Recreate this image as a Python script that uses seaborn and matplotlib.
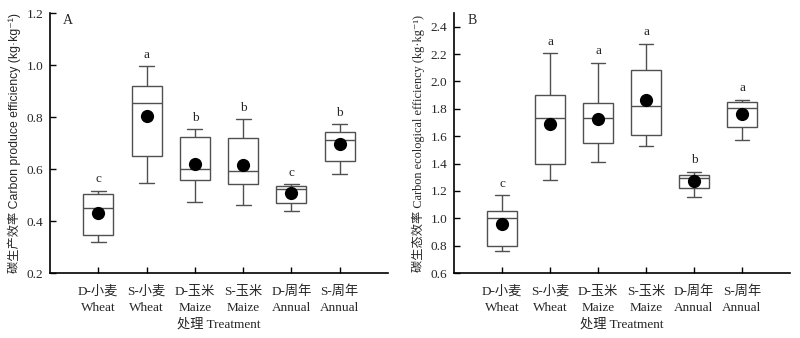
import numpy as np
import pandas as pd
import matplotlib
matplotlib.use("Agg")
import matplotlib.pyplot as plt
import seaborn as sns

# Treatments (x categories)
treatments = ["D-小麦\nWheat", "S-小麦\nWheat", "D-玉米\nMaize",
              "S-玉米\nMaize", "D-周年\nAnnual", "S-周年\nAnnual"]

# Panel A: carbon produce efficiency (kg·kg-1) - five-number summaries and means
prod_min = [0.319, 0.547, 0.472, 0.463, 0.437, 0.580]
prod_q1 = [0.345, 0.649, 0.557, 0.541, 0.468, 0.631]
prod_med = [0.449, 0.853, 0.599, 0.591, 0.523, 0.710]
prod_q3 = [0.505, 0.920, 0.722, 0.719, 0.533, 0.741]
prod_max = [0.517, 0.995, 0.754, 0.791, 0.541, 0.772]
prod_mean = [0.432, 0.805, 0.618, 0.617, 0.509, 0.695]
prod_letters = ["c", "a", "b", "b", "c", "b"]

# Panel B: carbon ecological efficiency (kg·kg-1)
eco_min = [0.765, 1.278, 1.414, 1.531, 1.156, 1.574]
eco_q1 = [0.797, 1.394, 1.550, 1.608, 1.222, 1.664]
eco_med = [1.006, 1.730, 1.732, 1.822, 1.295, 1.808]
eco_q3 = [1.054, 1.900, 1.841, 2.082, 1.315, 1.849]
eco_max = [1.168, 2.206, 2.136, 2.274, 1.340, 1.866]
eco_mean = [0.962, 1.691, 1.725, 1.861, 1.273, 1.764]
eco_letters = ["c", "a", "a", "a", "b", "a"]

sns.set_theme(style="ticks")
SERIF = ["Liberation Serif", "Noto Sans CJK SC", "DejaVu Sans"]
SANS = ["Liberation Sans", "Noto Sans CJK SC", "DejaVu Sans"]
plt.rcParams["font.family"] = SERIF
plt.rcParams["font.size"] = 9.5

LINE = "#505050"


def long_table(lo, q1, med, q3, hi):
    rows = []
    for i, t in enumerate(treatments):
        for v in (lo[i], q1[i], med[i], q3[i], hi[i]):
            rows.append({"treatment": t, "value": v})
    return pd.DataFrame(rows)


def draw_panel(ax, lo, q1, med, q3, hi, means, letters, ylim, ticks,
               ylabel, ylabel_family, tag, offset):
    df = long_table(lo, q1, med, q3, hi)
    sns.boxplot(data=df, x="treatment", y="value", order=treatments,
                whis=(0, 100), width=0.62, color="white", linecolor=LINE,
                linewidth=1.0, showfliers=False, ax=ax)
    mdf = pd.DataFrame({"treatment": treatments, "value": means})
    sns.stripplot(data=mdf, x="treatment", y="value", order=treatments,
                  jitter=False, color="black", size=9.5, ax=ax, zorder=5)
    for i, (h, lab) in enumerate(zip(hi, letters)):
        ax.text(i, h + offset, lab, ha="center", va="bottom",
                fontsize=9.5, family=SERIF)
    ax.set_xlim(-1, 6)
    ax.set_ylim(*ylim)
    ax.set_yticks(ticks)
    ax.set_yticklabels([f"{t:.1f}" for t in ticks])
    ax.set_xticks(range(len(treatments)))
    ax.set_xticklabels(treatments, linespacing=1.45)
    ax.tick_params(axis="both", direction="in", length=4, width=1,
                   color="black", labelsize=9.5)
    ax.tick_params(axis="y", pad=5)
    ax.tick_params(axis="x", pad=9)
    ax.set_xlabel("处理 Treatment", fontsize=9.5, labelpad=3)
    ax.set_ylabel(ylabel, fontsize=8.8, family=ylabel_family, labelpad=4)
    for s in ("top", "right"):
        ax.spines[s].set_visible(False)
    for s in ("left", "bottom"):
        ax.spines[s].set_linewidth(1.2)
        ax.spines[s].set_color("black")
    ax.text(0.053, 0.97, tag, transform=ax.transAxes, ha="center",
            va="center", fontsize=10, family=SERIF)


fig = plt.figure(figsize=(8.0, 3.38), dpi=100)
axA = fig.add_axes([0.0625, 0.192, 0.4225, 0.7695])
axB = fig.add_axes([0.5675, 0.192, 0.42, 0.7695])

draw_panel(axA, prod_min, prod_q1, prod_med, prod_q3, prod_max, prod_mean,
           prod_letters, (0.2, 1.2), np.arange(0.2, 1.21, 0.2),
           "碳生产效率 Carbon produce efficiency (kg·kg⁻¹)", SANS, "A", 0.02)
draw_panel(axB, eco_min, eco_q1, eco_med, eco_q3, eco_max, eco_mean,
           eco_letters, (0.6, 2.5), np.arange(0.6, 2.41, 0.2),
           "碳生态效率 Carbon ecological efficiency (kg·kg⁻¹)", SERIF, "B", 0.04)

fig.savefig("out.png", dpi=100, facecolor="white")
